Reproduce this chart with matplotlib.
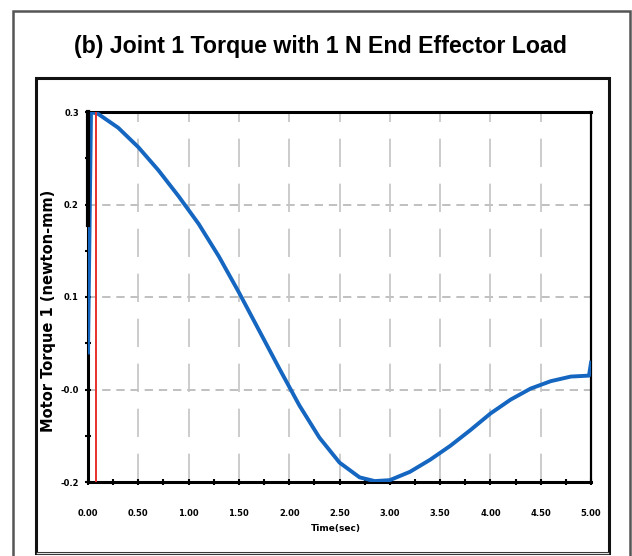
import matplotlib
matplotlib.use("Agg")
import matplotlib.pyplot as plt
from matplotlib.patches import Rectangle
from matplotlib.lines import Line2D

# ---- data ----
time_s = [0.0, 0.03, 0.1, 0.3, 0.5, 0.7, 0.9, 1.1, 1.3, 1.5, 1.7, 1.9, 2.1, 2.3,
          2.5, 2.7, 2.85, 3.0, 3.2, 3.4, 3.6, 3.8, 4.0, 4.2, 4.4, 4.6, 4.8, 4.98, 5.0]
torque = [0.04, 0.30, 0.298, 0.283, 0.262, 0.237, 0.209, 0.179, 0.144, 0.105,
          0.064, 0.023, -0.017, -0.052, -0.079, -0.095, -0.099, -0.098, -0.089,
          -0.076, -0.061, -0.044, -0.026, -0.011, 0.001, 0.009, 0.014, 0.015, 0.029]
black_t = [0.0, 0.0]
black_v = [0.30, 0.178]
red_t = [0.08, 0.08]
red_v = [0.30, -0.10]

x_ticks = [0.0, 0.5, 1.0, 1.5, 2.0, 2.5, 3.0, 3.5, 4.0, 4.5, 5.0]
x_tick_labels = ["0.00", "0.50", "1.00", "1.50", "2.00", "2.50", "3.00",
                 "3.50", "4.00", "4.50", "5.00"]
y_ticks = [0.3, 0.2, 0.1, 0.0, -0.1]
y_tick_labels = ["0.3", "0.2", "0.1", "-0.0", "-0.2"]
h_grid = [0.2, 0.1, 0.0]
v_grid = [0.5, 1.0, 1.5, 2.0, 2.5, 3.0, 3.5, 4.0, 4.5]

title = "(b) Joint 1 Torque with 1 N End Effector Load"
x_label = "Time(sec)"
y_label = "Motor Torque 1 (newton-mm)"

W, H = 632, 556
fig = plt.figure(figsize=(W / 100, H / 100), dpi=100)
fig.patch.set_facecolor("white")

def fx(px):
    return px / W

def fy(py):
    return 1 - py / H

# outer frame and inner frame
fig.add_artist(Rectangle((fx(13), fy(575)), fx(630) - fx(13), fy(11) - fy(575),
                         transform=fig.transFigure, fill=False,
                         edgecolor="#555555", linewidth=1.8))
fig.add_artist(Rectangle((fx(36), fy(553)), fx(609) - fx(36), fy(78) - fy(553),
                         transform=fig.transFigure, fill=False,
                         edgecolor="#111111", linewidth=2.2))
fig.add_artist(Line2D([fx(37), fx(608)], [fy(553), fy(553)],
                      transform=fig.transFigure, color="#dddddd", linewidth=1))

fig.text(fx(321), fy(47), title, ha="center", va="center",
         fontsize=16.7, fontweight="bold", family="Liberation Sans")

ax = fig.add_axes([fx(88), fy(482), fx(591) - fx(88), fy(112) - fy(482)])
ax.set_facecolor("white")
ax.set_xlim(0, 5)
ax.set_ylim(-0.1, 0.3)

for g in h_grid:
    ax.axhline(g, color="#b5b5b5", linewidth=1.2, dashes=(5, 3.5), zorder=1)
for g in v_grid:
    ax.axvline(g, color="#c4c4c4", linewidth=1.2, dashes=(17, 10), zorder=1)

ax.plot(time_s, torque, color="#1466c0", linewidth=2.8, zorder=3,
        solid_joinstyle="round")
ax.plot(red_t, red_v, color="#e8302a", linewidth=1.4, zorder=4)
ax.plot(black_t, black_v, color="black", linewidth=3, zorder=5, clip_on=False)

ax.set_xticks(x_ticks)
ax.set_xticklabels(x_tick_labels)
ax.set_yticks(y_ticks)
ax.set_yticklabels(y_tick_labels)
ax.set_xticks([0.25 + 0.5 * i for i in range(10)], minor=True)
ax.set_yticks([0.25, 0.15, 0.05, -0.05], minor=True)
ax.tick_params(axis="both", which="both", direction="inout", length=5,
               width=1.5, color="black")
ax.tick_params(axis="both", which="major", labelsize=6)
ax.tick_params(axis="x", pad=17)
ax.tick_params(axis="y", pad=4)
for lab in ax.get_xticklabels() + ax.get_yticklabels():
    lab.set_fontweight("bold")
    lab.set_family("DejaVu Sans")

for side in ["left", "bottom", "top", "right"]:
    ax.spines[side].set_color("black")
ax.spines["left"].set_linewidth(2.2)
ax.spines["bottom"].set_linewidth(2.2)
ax.spines["top"].set_linewidth(2.2)
ax.spines["right"].set_linewidth(1.6)

fig.text(fx(336), fy(529), x_label, ha="center", va="center", fontsize=6.5,
         fontweight="bold", family="DejaVu Sans")
fig.text(fx(49), fy(311), y_label, ha="center", va="center", fontsize=10.5,
         fontweight="bold", rotation=90, family="DejaVu Sans")

fig.savefig("out.png", dpi=100, facecolor="white")
